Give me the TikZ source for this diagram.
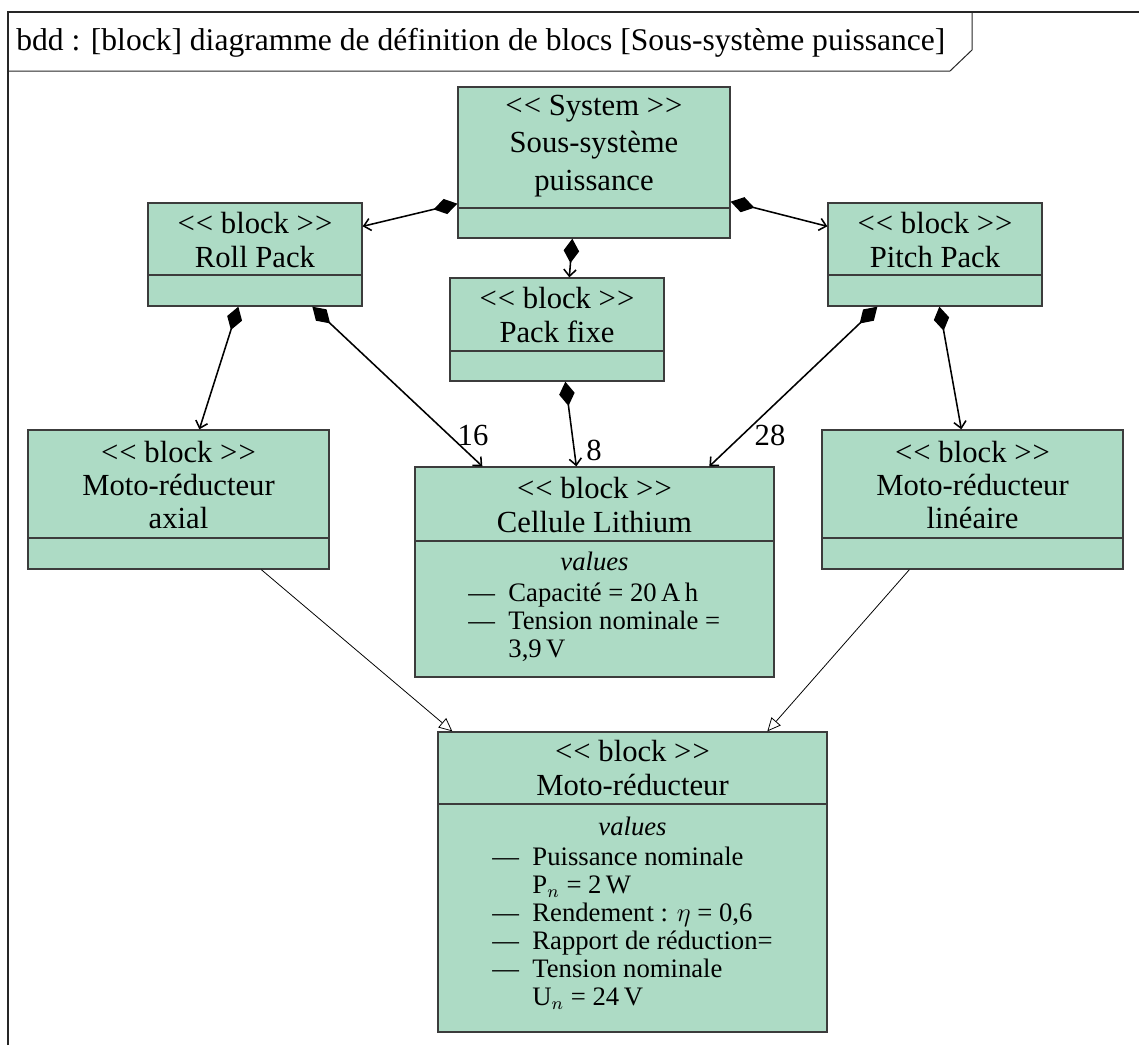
\documentclass[tikz,border=0pt]{standalone}
\usepackage{fontspec}
\setmainfont{Liberation Serif}
\usetikzlibrary{arrows.meta,calc,fit}
\definecolor{blockfill}{RGB}{173,219,197}
\definecolor{edgegray}{RGB}{60,60,60}
\tikzset{
  blk/.style={draw=edgegray, fill=blockfill, line width=0.6pt, inner sep=0pt, rectangle},
  sepline/.style={draw=edgegray, line width=0.6pt},
  ttl/.style={align=center, font=\fontsize{13.8}{15}\selectfont, inner sep=0pt},
  vals/.style={align=left, font=\fontsize{12}{12.6}\selectfont, inner sep=0pt, anchor=north west},
  vhead/.style={font=\fontsize{12}{12.6}\selectfont\itshape, inner sep=0pt, anchor=base},
  comp/.style={line width=0.7pt, {Diamond[length=11pt,width=7pt]}-{Straight Barb[length=3pt,width=5.5pt]}},
  gen/.style={line width=0.35pt, -{Triangle[open,length=6pt,width=5.5pt,fill=white]}},
  mult/.style={font=\fontsize{13.8}{15}\selectfont, inner sep=0pt},
  frameline/.style={line width=0.6pt, draw=black!85}
}
\newcommand{\st}[1]{\textless\kern0.5pt\textless\ #1 \textgreater\kern0.5pt\textgreater}
\newcommand{\itm}{\makebox[1.5em][l]{\textemdash}}
\newcommand{\cont}{\hspace*{1.5em}}
\begin{document}
\begin{tikzpicture}[x=0.45pt,y=-0.45pt]
\useasboundingbox (0,0) rectangle (1139,1045);

% frame
\draw[frameline] (8,1045) -- (8,12) -- (1139,12);
\draw[frameline, line width=0.45pt] (8,71) -- (950,71) -- (972,50) -- (972,12);
\node[anchor=west, inner sep=0pt, font=\fontsize{14.2}{15}\selectfont] (title) at (16,43)
  {bdd : [block] diagramme de définition de blocs [Sous-système puissance]};

% boxes
\coordinate (sysA) at (458,87);  \coordinate (sysB) at (730,238);
\coordinate (rpA) at (148,203);  \coordinate (rpB) at (362,306);
\coordinate (pfA) at (450,278);  \coordinate (pfB) at (664,381);
\coordinate (ppA) at (828,203);  \coordinate (ppB) at (1042,306);
\coordinate (axA) at (28,430);   \coordinate (axB) at (329,569);
\coordinate (clA) at (415,467);  \coordinate (clB) at (774,677);
\coordinate (liA) at (822,430);  \coordinate (liB) at (1123,569);
\coordinate (mrA) at (438,732);  \coordinate (mrB) at (827,1032);

\node[blk, fit=(sysA)(sysB)] (sys) {};
\node[blk, fit=(rpA)(rpB)] (rp) {};
\node[blk, fit=(pfA)(pfB)] (pf) {};
\node[blk, fit=(ppA)(ppB)] (pp) {};
\node[blk, fit=(axA)(axB)] (ax) {};
\node[blk, fit=(clA)(clB)] (cl) {};
\node[blk, fit=(liA)(liB)] (li) {};
\node[blk, fit=(mrA)(mrB)] (mr) {};

% separators
\draw[sepline] (sys.west |- 0,208) -- (sys.east |- 0,208);
\draw[sepline] (rp.west |- 0,275) -- (rp.east |- 0,275);
\draw[sepline] (pf.west |- 0,351) -- (pf.east |- 0,351);
\draw[sepline] (pp.west |- 0,275) -- (pp.east |- 0,275);
\draw[sepline] (ax.west |- 0,538) -- (ax.east |- 0,538);
\draw[sepline] (cl.west |- 0,541) -- (cl.east |- 0,541);
\draw[sepline] (li.west |- 0,538) -- (li.east |- 0,538);
\draw[sepline] (mr.west |- 0,804) -- (mr.east |- 0,804);

% titles
\node[ttl, font=\fontsize{13.8}{17}\selectfont] (sysT) at (sys.north |- 0,146) {\st{System}\\Sous-système\\puissance};
\node[ttl] (rpT) at (rp.north |- 0,240) {\st{block}\\Roll Pack};
\node[ttl] (pfT) at (pf.north |- 0,315) {\st{block}\\Pack fixe};
\node[ttl] (ppT) at (pp.north |- 0,240) {\st{block}\\Pitch Pack};
\node[ttl] (axT) at (ax.north |- 0,485) {\st{block}\\Moto-réducteur\\axial};
\node[ttl] (clT) at (cl.north |- 0,505) {\st{block}\\Cellule Lithium};
\node[ttl] (liT) at (li.north |- 0,485) {\st{block}\\Moto-réducteur\\linéaire};
\node[ttl] (mrT) at (mr.north |- 0,768) {\st{block}\\Moto-réducteur};

% values
\node[vhead] (clV) at (cl.north |- 0,570) {values};
\node[vals] (clL) at (468,583) {\itm Capacité = 20\,A\,h\\\itm Tension nominale =\\\cont 3,9\,V};
\node[vhead] (mrV) at (mr.north |- 0,835) {values};
\node[vals] (mrL) at (492,847) {\itm Puissance nominale\\\cont P$_n$ = 2\,W\\\itm Rendement : $\eta$ = 0,6\\\itm Rapport de réduction=\\\itm Tension nominale\\\cont U$_n$ = 24\,V};

% composition connectors
\draw[comp] ($(sys.south west)+(0,-35)$) -- ($(rp.north east)+(0,24)$);
\draw[comp] ($(sys.south east)+(0,-37)$) -- ($(pp.north west)+(0,24)$);
\draw[comp] ($(sys.south west)+(115,0)$) -- ($(pf.north west)+(120,0)$);
\draw[comp] ($(rp.south west)+(91,0)$) -- ($(ax.north west)+(172,0)$);
\draw[comp] ($(rp.south west)+(165,0)$) -- ($(cl.north west)+(68,0)$);
\draw[comp] ($(pf.south west)+(116,0)$) -- ($(cl.north west)+(162,0)$);
\draw[comp] ($(pp.south west)+(50,0)$) -- ($(cl.north west)+(295,0)$);
\draw[comp] ($(pp.south west)+(112,0)$) -- ($(li.north west)+(140,0)$);

% multiplicities
\node[mult] (m16) at (473,435) {16};
\node[mult] (m8) at (594,450) {8};
\node[mult] (m28) at (770,435) {28};

% generalisations
\draw[gen] ($(ax.south west)+(234,0)$) -- ($(mr.north west)+(15,0)$);
\draw[gen] ($(li.south west)+(88,0)$) -- ($(mr.north west)+(330,0)$);
\end{tikzpicture}
\end{document}
